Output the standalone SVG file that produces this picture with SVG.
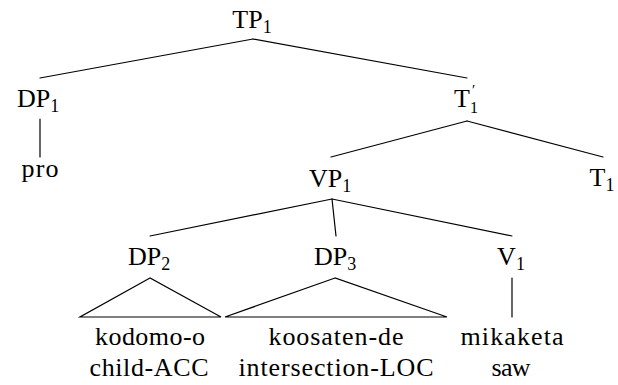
<svg xmlns="http://www.w3.org/2000/svg" width="618" height="385" viewBox="0 0 618 385">
<style>
text{font-size:26px;fill:#000;text-anchor:middle}
.sub{font-size:18px}
.pr{font-size:15px}
.sb2{font-size:16px}
.st{text-anchor:start}
#connectors line,#connectors polygon{stroke:#000;stroke-width:1.2;fill:none;stroke-linecap:round}
</style>
<rect width="618" height="385" fill="#fff"/>
<g id="connectors">
<line x1="253" y1="39" x2="40" y2="78"/>
<line x1="253" y1="39" x2="467" y2="78"/>
<line x1="40" y1="119" x2="40" y2="157"/>
<line x1="467" y1="121" x2="331" y2="157"/>
<line x1="467" y1="121" x2="603" y2="157"/>
<line x1="332" y1="199" x2="150" y2="236"/>
<line x1="332" y1="199" x2="336" y2="236"/>
<line x1="332" y1="199" x2="512" y2="236"/>
<polygon points="150,278 80,317 221,317"/>
<polygon points="335,278 225,317 447,317"/>
<line x1="512" y1="278" x2="512" y2="317"/>
</g>
<g font-family="'Liberation Serif', 'DejaVu Serif', 'Noto Serif', 'Times New Roman', serif">
<g id="TP1"><text x="252" y="28">TP<tspan class="sub" dy="5">1</tspan></text></g>
<g id="DP1"><text x="38" y="107">DP<tspan class="sub" dy="5">1</tspan></text></g>
<g id="pro"><text x="40" y="177" textLength="37" lengthAdjust="spacing">pro</text></g>
<g id="Tbar1"><text class="st" x="454" y="107">T</text><text class="st pr" x="472" y="95">′</text><text class="st sb2" x="470" y="113">1</text></g>
<g id="VP1"><text x="330" y="187">VP<tspan class="sub" dy="5">1</tspan></text></g>
<g id="T1"><text x="602" y="186">T<tspan class="sub" dy="5">1</tspan></text></g>
<g id="DP2"><text x="149" y="265">DP<tspan class="sub" dy="5">2</tspan></text></g>
<g id="DP3"><text x="335" y="265">DP<tspan class="sub" dy="5">3</tspan></text></g>
<g id="V1"><text x="511" y="265">V<tspan class="sub" dy="5">1</tspan></text></g>
<g id="leaf-kodomo"><text x="150" y="345" textLength="110" lengthAdjust="spacing">kodomo-o</text><text x="149" y="376" textLength="119" lengthAdjust="spacing">child-ACC</text></g>
<g id="leaf-koosaten"><text x="336" y="345" textLength="135" lengthAdjust="spacing">koosaten-de</text><text x="336" y="376" textLength="195" lengthAdjust="spacing">intersection-LOC</text></g>
<g id="leaf-mikaketa"><text x="512" y="345" textLength="103" lengthAdjust="spacing">mikaketa</text><text x="511" y="376" textLength="39" lengthAdjust="spacing">saw</text></g>
</g>
</svg>
